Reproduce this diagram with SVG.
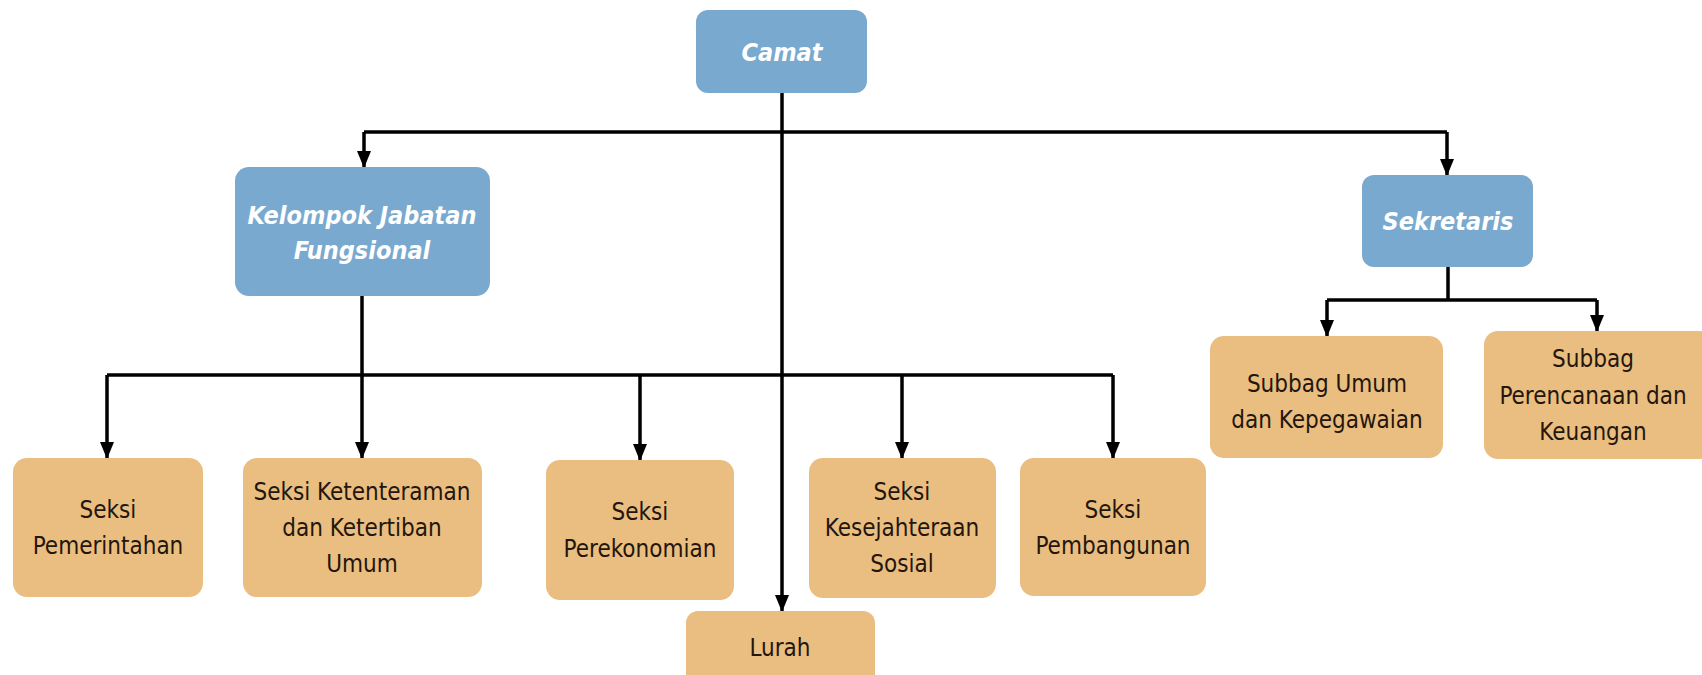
<svg xmlns="http://www.w3.org/2000/svg" width="1702" height="675" viewBox="0 0 1702 675">
<style>
.blue{fill:#7aa9cf}
.tan{fill:#e9be80}
.bt{font-family:"Liberation Sans Narrow","DejaVu Sans Condensed","Liberation Sans",sans-serif;font-weight:bold;font-style:italic;font-size:25px;fill:#ffffff;text-anchor:middle}
.tt{font-family:"Liberation Sans Narrow","DejaVu Sans Condensed","Liberation Sans",sans-serif;font-size:24px;fill:#24160c;text-anchor:middle}
.ln{stroke:#000;stroke-width:3.5;fill:none}
.ar{stroke:#000;stroke-width:3.5;fill:none;marker-end:url(#ah)}
</style>
<defs>
<marker id="ah" markerUnits="userSpaceOnUse" markerWidth="17" markerHeight="14" refX="16" refY="7" orient="auto">
<path d="M0,0 L17,7 L0,14 z" fill="#000"/>
</marker>
</defs>
<rect width="1702" height="675" fill="#ffffff"/>
<g id="connectors">
<path class="ar" d="M782,93 V611"/>
<path class="ln" d="M364,132 H1447"/>
<path class="ar" d="M364,132 V167"/>
<path class="ar" d="M1447,132 V175"/>
<path class="ln" d="M362,296 V375"/>
<path class="ln" d="M107,375 H1113"/>
<path class="ar" d="M107,375 V458"/>
<path class="ar" d="M362,375 V458"/>
<path class="ar" d="M640,375 V460"/>
<path class="ar" d="M902,375 V458"/>
<path class="ar" d="M1113,375 V458"/>
<path class="ln" d="M1448,267 V300"/>
<path class="ln" d="M1327,300 H1597"/>
<path class="ar" d="M1327,300 V336"/>
<path class="ar" d="M1597,300 V331"/>
</g>
<g id="camat"><rect class="blue" x="696" y="10" width="171" height="83" rx="12"/><text class="bt" x="782" y="61">Camat</text></g>
<g id="kelompok"><rect class="blue" x="235" y="167" width="255" height="129" rx="14"/><text class="bt" x="362" y="224">Kelompok Jabatan</text><text class="bt" x="362" y="259">Fungsional</text></g>
<g id="sekretaris"><rect class="blue" x="1362" y="175" width="171" height="92" rx="12"/><text class="bt" x="1448" y="230">Sekretaris</text></g>
<g id="pemerintahan"><rect class="tan" x="13" y="458" width="190" height="139" rx="14"/><text class="tt" x="108" y="518">Seksi</text><text class="tt" x="108" y="554">Pemerintahan</text></g>
<g id="ketenteraman"><rect class="tan" x="243" y="458" width="239" height="139" rx="14"/><text class="tt" x="362" y="500">Seksi Ketenteraman</text><text class="tt" x="362" y="536">dan Ketertiban</text><text class="tt" x="362" y="572">Umum</text></g>
<g id="perekonomian"><rect class="tan" x="546" y="460" width="188" height="140" rx="14"/><text class="tt" x="640" y="520">Seksi</text><text class="tt" x="640" y="557">Perekonomian</text></g>
<g id="kesejahteraan"><rect class="tan" x="809" y="458" width="187" height="140" rx="14"/><text class="tt" x="902" y="500">Seksi</text><text class="tt" x="902" y="536">Kesejahteraan</text><text class="tt" x="902" y="572">Sosial</text></g>
<g id="pembangunan"><rect class="tan" x="1020" y="458" width="186" height="138" rx="14"/><text class="tt" x="1113" y="518">Seksi</text><text class="tt" x="1113" y="554">Pembangunan</text></g>
<g id="lurah"><rect class="tan" x="686" y="611" width="189" height="80" rx="12"/><text class="tt" x="780" y="656">Lurah</text></g>
<g id="subbag-umum"><rect class="tan" x="1210" y="336" width="233" height="122" rx="14"/><text class="tt" x="1327" y="392">Subbag Umum</text><text class="tt" x="1327" y="428">dan Kepegawaian</text></g>
<g id="subbag-perencanaan"><rect class="tan" x="1484" y="331" width="230" height="128" rx="14"/><text class="tt" x="1593" y="367">Subbag</text><text class="tt" x="1593" y="404">Perencanaan dan</text><text class="tt" x="1593" y="440">Keuangan</text></g>
</svg>
